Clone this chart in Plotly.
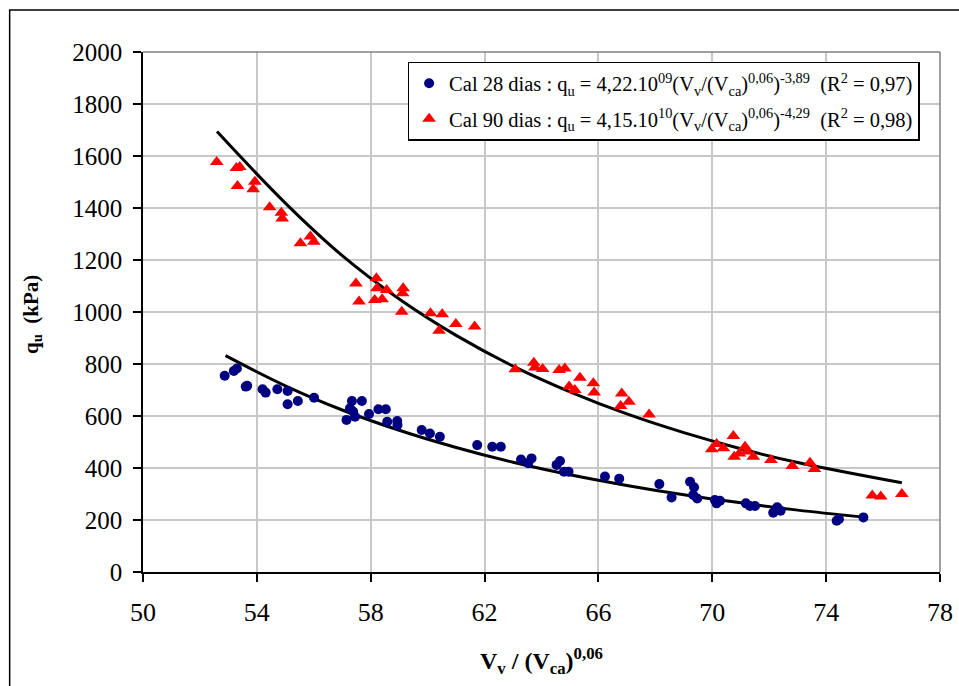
import plotly.graph_objects as go

# ---- data ----
x_28 = [52.87, 53.19, 53.30, 53.61, 53.66, 54.20, 54.31, 54.72, 55.08, 55.08, 55.44, 56.01,
        57.34, 57.69, 57.27, 57.38, 57.15, 57.45, 57.94, 58.27, 58.53, 58.58, 58.93, 58.94,
        59.79, 60.08, 60.43, 61.74, 62.27, 62.57, 63.28, 63.53, 63.65, 64.53, 64.65, 64.79,
        64.95, 66.23, 66.73, 68.14, 68.57, 69.22, 69.36, 69.33, 69.47, 70.09, 70.15, 70.27,
        71.18, 71.32, 71.50, 72.14, 72.28, 72.40, 74.37, 74.45, 75.31]
y_28 = [755, 773, 783, 713, 716, 703, 690, 703, 696, 645, 658, 670,
        658, 658, 630, 617, 585, 597, 608, 626, 626, 578, 581, 565,
        546, 533, 520, 488, 482, 482, 433, 418, 437, 412, 427, 386,
        386, 367, 359, 338, 287, 347, 326, 296, 283, 277, 264, 274,
        264, 254, 254, 228, 249, 236, 197, 203, 210]

x_90 = [52.59, 53.28, 53.40, 53.32, 53.93, 53.87, 54.45, 54.86, 54.89, 55.53, 55.88, 56.00,
        57.48, 57.59, 58.20, 58.14, 58.22, 58.40, 58.56, 59.14, 59.12, 59.09, 60.10, 60.51,
        60.40, 60.99, 61.65, 63.08, 63.73, 63.77, 64.04, 64.62, 64.82, 65.35, 64.97, 65.17,
        65.82, 65.85, 66.82, 66.78, 67.07, 67.78, 69.98, 70.15, 70.39, 70.74, 70.77, 70.95,
        71.15, 71.23, 71.44, 72.06, 72.81, 73.43, 73.59, 75.62, 75.92, 76.66]
y_90 = [1577, 1554, 1558, 1485, 1501, 1472, 1403, 1382, 1360, 1264, 1290, 1270,
        1110, 1040, 1130, 1046, 1091, 1049, 1085, 1091, 1072, 1001, 995, 991,
        928, 954, 944, 780, 805, 787, 781, 777, 783, 747, 713, 700,
        726, 690, 687, 638, 655, 606, 472, 492, 476, 523, 443, 456,
        482, 463, 443, 431, 408, 420, 396, 294, 290, 300]

# trend lines
fit_x_28 = [52.9, 55, 57, 59, 61, 63, 65, 67, 69, 71, 73, 75.25]
fit_y_28 = [832, 716, 623, 545, 479, 422, 374, 333, 297, 266, 238, 212]
fit_x_90 = [52.6, 55, 57, 59, 61, 63, 65, 67, 69, 71, 73, 76.66]
fit_y_90 = [1694, 1419, 1217, 1050, 910, 792, 693, 608, 536, 474, 421, 343]

name_28 = ("Cal 28 dias : q<sub>u</sub> = 4,22.10<sup>09</sup>(V<sub>v</sub>/(V<sub>ca</sub>)"
           "<sup>0,06</sup>)<sup>-3,89</sup>\u00a0\u00a0(R<sup>2</sup> = 0,97)")
name_90 = ("Cal 90 dias : q<sub>u</sub> = 4,15.10<sup>10</sup>(V<sub>v</sub>/(V<sub>ca</sub>)"
           "<sup>0,06</sup>)<sup>-4,29</sup>\u00a0\u00a0(R<sup>2</sup> = 0,98)")
x_title = "<b>V<sub>v</sub> / (V<sub>ca</sub>)<sup>0,06</sup></b>"
y_title = "<b>q<sub>u</sub>\u00a0\u00a0(kPa)</b>"

FONT = "Liberation Serif"

fig = go.Figure()
fig.add_trace(go.Scatter(x=fit_x_28, y=fit_y_28, mode="lines", line=dict(color="black", width=3, shape="spline"),
                         showlegend=False, hoverinfo="skip"))
fig.add_trace(go.Scatter(x=fit_x_90, y=fit_y_90, mode="lines", line=dict(color="black", width=3, shape="spline"),
                         showlegend=False, hoverinfo="skip"))
fig.add_trace(go.Scatter(x=x_28, y=y_28, mode="markers", name=name_28, legendgroup="g28",
                         marker=dict(symbol="circle", size=10, color="#000080")))
fig.add_trace(go.Scatter(x=x_90, y=y_90, mode="markers", name=name_90, legendgroup="g90",
                         marker=dict(symbol="triangle-up", size=12, color="#FF0000")))

# plot-area top/right border and outer chart frame
fig.add_shape(type="line", xref="paper", yref="paper", x0=0, x1=1, y0=1, y1=1,
              line=dict(color="#808080", width=1.5))
fig.add_shape(type="line", xref="paper", yref="paper", x0=1, x1=1, y0=0, y1=1,
              line=dict(color="#808080", width=1.5))
fig.add_shape(type="rect", xref="paper", yref="paper", x0=-0.1673, x1=1.04, y0=-0.3, y1=1.0808,
              line=dict(color="black", width=1.5), fillcolor="rgba(0,0,0,0)")

fig.add_annotation(text=x_title, xref="paper", yref="paper", x=0.5, y=-0.172, showarrow=False,
                   xanchor="center", yanchor="middle", font=dict(family=FONT, size=24, color="black"))
fig.add_annotation(text=y_title, xref="paper", yref="paper", x=-0.14, y=0.495, showarrow=False,
                   textangle=-90, xanchor="center", yanchor="middle",
                   font=dict(family=FONT, size=21, color="black"))

fig.update_layout(
    width=959, height=686,
    margin=dict(l=143, r=19, t=52, b=114, pad=0, autoexpand=False),
    paper_bgcolor="white", plot_bgcolor="white",
    font=dict(family=FONT, color="black"),
    showlegend=True,
    legend=dict(x=0.332, y=0.981, xanchor="left", yanchor="top",
                bgcolor="white", bordercolor="black", borderwidth=1.5,
                font=dict(family=FONT, size=20.5, color="black"),
                itemwidth=30, traceorder="grouped", tracegroupgap=6),
    xaxis=dict(range=[50, 78], dtick=4, tick0=50, showgrid=True, gridcolor="#c8c8c8", gridwidth=1.5,
               zeroline=False, showline=True, linecolor="black", linewidth=1.5,
               ticks="outside", ticklen=8, tickcolor="black", tickwidth=1.5, ticklabelstandoff=8,
               tickfont=dict(family=FONT, size=26, color="black")),
    yaxis=dict(range=[0, 2000], dtick=200, tick0=0, showgrid=True, gridcolor="#c8c8c8", gridwidth=1.5,
               zeroline=False, showline=True, linecolor="black", linewidth=1.5,
               ticks="outside", ticklen=8, tickcolor="black", tickwidth=1.5, ticklabelstandoff=6,
               tickfont=dict(family=FONT, size=25, color="black")),
)

fig.write_html("out.html", config={"displayModeBar": False},
               post_script="document.body.style.margin='0';document.body.style.overflow='hidden';")
